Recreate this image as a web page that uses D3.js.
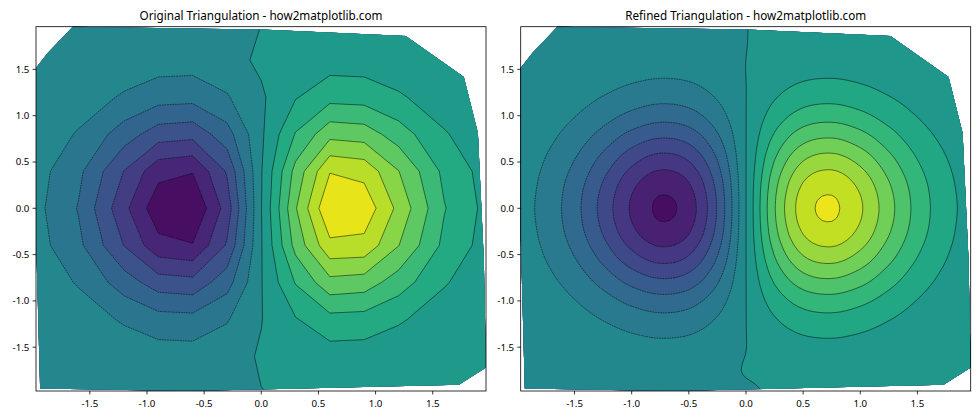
<!DOCTYPE html>
<html><head><meta charset="utf-8">
<script src="https://cdn.jsdelivr.net/npm/d3@7"></script>
<style>body{margin:0;background:#fff}</style>
</head><body><svg id="chart" width="980" height="420"></svg>
<script>
// ---------------- data ----------------
const titles = ["Original Triangulation - how2matplotlib.com", "Refined Triangulation - how2matplotlib.com"];
const tickValues = [-1.5, -1.0, -0.5, 0.0, 0.5, 1.0, 1.5];
const tickLabels = ["-1.5", "-1.0", "-0.5", "0.0", "0.5", "1.0", "1.5"];
const xLimits = [-1.971, 1.966];
const yLimits = [-1.973, 1.961];
// convex hull of the sample points (x, y)
const hull = [[-1.971, 1.515], [-1.868, 1.677], [-1.649, 1.961], [0.0, 1.93], [1.263, 1.861], [1.772, 1.418],
  [1.895, 0.812], [1.947, -0.563], [1.966, -1.72], [1.728, -1.905], [0.06, -1.955], [-0.667, -1.973],
  [-1.935, -1.945], [-1.971, -0.3]];
const levelsOriginal = [-0.42, -0.36, -0.30, -0.24, -0.18, -0.12, -0.06, 0, 0.06, 0.12, 0.18, 0.24, 0.30, 0.36, 0.42];
const levelsRefined = [-0.48, -0.42, -0.36, -0.30, -0.24, -0.18, -0.12, -0.06, 0, 0.06, 0.12, 0.18, 0.24, 0.30, 0.36, 0.42, 0.48];

// original (coarse) samples
const origXNodes = [-2, -1.6, -1.2, -0.9, -0.6, -0.3, 0, 0.3, 0.6, 0.9, 1.2, 1.6, 2];
const origYNodes = [2, 1.6, 1.2, 0.8, 0.4, 0, -0.4, -0.8, -1.2, -1.6, -2];
const origZ = [
  [-0.0007, -0.0023, -0.0052, -0.0073, -0.0077, -0.0050, -0.0002, 0.0043, 0.0077, 0.0073, 0.0052, 0.0023, 0.0007],
  [-0.0028, -0.0096, -0.0220, -0.0310, -0.0324, -0.0212, 0.0106, 0.0182, 0.0324, 0.0310, 0.0220, 0.0096, 0.0028],
  [-0.0087, -0.0293, -0.0673, -0.0949, -0.0992, -0.0650, -0.0086, 0.0557, 0.0992, 0.0949, 0.0673, 0.0293, 0.0087],
  [-0.0193, -0.0652, -0.1498, -0.2112, -0.2207, -0.1446, -0.0100, 0.1239, 0.2207, 0.2112, 0.1498, 0.0652, 0.0193],
  [-0.0312, -0.1054, -0.2420, -0.3413, -0.3567, -0.2336, -0.0040, 0.2002, 0.3567, 0.3413, 0.2420, 0.1054, 0.0312],
  [-0.0366, -0.1237, -0.2843, -0.4004, -0.4186, -0.2742, -0.0020, 0.2350, 0.4186, 0.4004, 0.2843, 0.1237, 0.0366],
  [-0.0312, -0.1054, -0.2420, -0.3413, -0.3567, -0.2336, -0.0040, 0.2002, 0.3450, 0.3413, 0.2420, 0.1054, 0.0312],
  [-0.0193, -0.0652, -0.1498, -0.2112, -0.2207, -0.1446, -0.0030, 0.1239, 0.2207, 0.2112, 0.1498, 0.0652, 0.0193],
  [-0.0087, -0.0293, -0.0673, -0.0949, -0.0992, -0.0650, -0.0020, 0.0557, 0.0992, 0.0949, 0.0673, 0.0293, 0.0087],
  [-0.0028, -0.0096, -0.0220, -0.0310, -0.0324, -0.0212, 0.0053, 0.0182, 0.0324, 0.0310, 0.0220, 0.0096, 0.0028],
  [-0.0007, -0.0023, -0.0052, -0.0073, -0.0077, -0.0050, -0.0011, 0.0043, 0.0077, 0.0073, 0.0052, 0.0023, 0.0007]
];

// refined field samples
const refXNodes = [-2, -1.75, -1.5, -1.25, -1, -0.75, -0.5, -0.25, 0, 0.25, 0.5, 0.75, 1, 1.25, 1.5, 1.75, 2];
const refYNodes = [2, 1.75, 1.5, 1.25, 1, 0.75, 0.5, 0.25, 0, -0.25, -0.5, -0.75, -1, -1.25, -1.5, -1.75, -2];
const refZ = [
  [-0.001, -0.002, -0.003, -0.005, -0.007, -0.008, -0.007, -0.004, -0.0003, 0.004, 0.007, 0.008, 0.007, 0.005, 0.003, 0.002, 0.001],
  [-0.002, -0.004, -0.007, -0.012, -0.017, -0.020, -0.018, -0.011, -0.0005, 0.011, 0.018, 0.020, 0.017, 0.012, 0.007, 0.004, 0.002],
  [-0.004, -0.009, -0.017, -0.028, -0.039, -0.045, -0.041, -0.025, 0.0003, 0.025, 0.041, 0.045, 0.039, 0.028, 0.017, 0.009, 0.004],
  [-0.008, -0.017, -0.033, -0.055, -0.077, -0.090, -0.082, -0.049, -0.0005, 0.049, 0.082, 0.090, 0.077, 0.055, 0.033, 0.017, 0.008],
  [-0.013, -0.030, -0.058, -0.096, -0.135, -0.157, -0.143, -0.086, -0.0005, 0.086, 0.143, 0.157, 0.135, 0.096, 0.058, 0.030, 0.013],
  [-0.021, -0.047, -0.090, -0.149, -0.210, -0.243, -0.222, -0.134, -0.0005, 0.134, 0.222, 0.243, 0.210, 0.149, 0.090, 0.047, 0.021],
  [-0.029, -0.064, -0.123, -0.204, -0.287, -0.333, -0.303, -0.183, -0.0005, 0.183, 0.303, 0.333, 0.287, 0.204, 0.123, 0.064, 0.029],
  [-0.034, -0.077, -0.149, -0.246, -0.346, -0.403, -0.366, -0.221, -0.0005, 0.221, 0.366, 0.403, 0.346, 0.246, 0.149, 0.077, 0.034],
  [-0.037, -0.082, -0.158, -0.262, -0.368, -0.429, -0.391, -0.235, -0.0005, 0.235, 0.391, 0.429, 0.368, 0.262, 0.158, 0.082, 0.037],
  [-0.034, -0.077, -0.149, -0.246, -0.346, -0.403, -0.366, -0.221, -0.0005, 0.221, 0.366, 0.403, 0.346, 0.246, 0.149, 0.077, 0.034],
  [-0.029, -0.064, -0.123, -0.204, -0.287, -0.333, -0.303, -0.183, -0.0005, 0.183, 0.303, 0.333, 0.287, 0.204, 0.123, 0.064, 0.029],
  [-0.021, -0.047, -0.090, -0.149, -0.210, -0.243, -0.222, -0.134, -0.0005, 0.134, 0.222, 0.243, 0.210, 0.149, 0.090, 0.047, 0.021],
  [-0.013, -0.030, -0.058, -0.096, -0.135, -0.157, -0.143, -0.086, -0.0005, 0.086, 0.143, 0.157, 0.135, 0.096, 0.058, 0.030, 0.013],
  [-0.008, -0.017, -0.033, -0.055, -0.077, -0.090, -0.082, -0.049, -0.0005, 0.049, 0.082, 0.090, 0.077, 0.055, 0.033, 0.017, 0.008],
  [-0.004, -0.009, -0.017, -0.028, -0.039, -0.045, -0.041, -0.025, -0.0005, 0.025, 0.041, 0.045, 0.039, 0.028, 0.017, 0.009, 0.004],
  [-0.002, -0.004, -0.007, -0.012, -0.017, -0.020, -0.018, -0.011, 0.0020, 0.011, 0.018, 0.020, 0.017, 0.012, 0.007, 0.004, 0.002],
  [-0.001, -0.002, -0.003, -0.005, -0.007, -0.008, -0.007, -0.004, -0.0055, 0.004, 0.007, 0.008, 0.007, 0.005, 0.003, 0.002, 0.001]
];

// ---------------- layout ----------------
const W = 450, T = 26.7, B = 391;
const panelLefts = [36, 520.7];
const FONT = "'Noto Sans', 'DejaVu Sans', sans-serif";
const svg = d3.select("#chart");
svg.append("rect").attr("width", 980).attr("height", 420).attr("fill", "#fff");
const defs = svg.append("defs");

// smooth refinement of a sampled grid (cubic, like a tri refiner)
function refineGrid(grid, f) {
  const rows = grid.length, cols = grid[0].length;
  const at = (r, c) => grid[Math.max(0, Math.min(rows - 1, r))][Math.max(0, Math.min(cols - 1, c))];
  const cr = (p0, p1, p2, p3, t) => 0.5 * (2 * p1 + (p2 - p0) * t + (2 * p0 - 5 * p1 + 4 * p2 - p3) * t * t + (3 * p1 - p0 - 3 * p2 + p3) * t * t * t);
  const nr = (rows - 1) * f + 1, nc = (cols - 1) * f + 1;
  const out = new Float64Array(nr * nc);
  for (let i = 0; i < nr; i++) {
    const v = i / f, r = Math.min(Math.floor(v), rows - 2), ty = v - r;
    for (let j = 0; j < nc; j++) {
      const u = j / f, c = Math.min(Math.floor(u), cols - 2), tx = u - c;
      const col = k => cr(at(r - 1, c + k), at(r, c + k), at(r + 1, c + k), at(r + 2, c + k), ty);
      out[i * nc + j] = cr(col(-1), col(0), col(1), col(2), tx);
    }
  }
  return { values: out, nx: nc, ny: nr };
}

function drawPanel(p) {
  const left = panelLefts[p.index];
  const x = d3.scaleLinear().domain(xLimits).range([left, left + W]);
  const y = d3.scaleLinear().domain(yLimits).range([B, T]);
  const proj = d3.geoTransform({
    point(cx, cy) { this.stream.point(x(p.xIndex(cx - 0.5)), y(p.yIndex(cy - 0.5))); }
  });
  const path = d3.geoPath(proj);
  const hullLine = d3.line().x(d => x(d[0])).y(d => y(d[1]));
  const clipId = "clip" + p.index;
  defs.append("clipPath").attr("id", clipId).append("path").attr("d", hullLine(hull) + "Z");

  const g = svg.append("g");
  const body = g.append("g").attr("clip-path", `url(#${clipId})`);
  const levels = p.levels;
  const lo = levels[0], hi = levels[levels.length - 1];
  const bandColor = i => d3.interpolateViridis(((levels[i] + levels[i + 1]) / 2 - lo) / (hi - lo));
  body.append("path").attr("d", hullLine(hull) + "Z").attr("fill", bandColor(0));
  const gen = d3.contours().size([p.nx, p.ny]).smooth(true);
  for (let i = 1; i < levels.length - 1; i++) {
    const c = gen.contour(p.values, levels[i]);
    if (!c.coordinates.length) continue;
    body.append("path").attr("d", path(c)).attr("fill", bandColor(i)).attr("fill-rule", "evenodd");
  }
  for (let i = 0; i < levels.length; i++) {
    const c = gen.contour(p.values, levels[i]);
    if (!c.coordinates.length) continue;
    body.append("path").attr("d", path(c)).attr("fill", "none")
      .attr("stroke", "#000").attr("stroke-width", 0.55).attr("stroke-opacity", 0.9)
      .attr("stroke-dasharray", levels[i] < 0 ? "1.8,0.8" : null);
  }

  // axes
  g.append("rect").attr("x", left).attr("y", T).attr("width", W).attr("height", B - T)
    .attr("fill", "none").attr("stroke", "#000").attr("stroke-width", 0.8);
  tickValues.forEach((v, i) => {
    g.append("line").attr("x1", x(v)).attr("x2", x(v)).attr("y1", B).attr("y2", B + 3.4)
      .attr("stroke", "#000").attr("stroke-width", 0.8);
    g.append("text").attr("x", x(v)).attr("y", B + 16).attr("text-anchor", "middle")
      .attr("font-family", FONT).attr("font-size", 9.7).attr("fill", "#000").text(tickLabels[i]);
    g.append("line").attr("x1", left - 3.4).attr("x2", left).attr("y1", y(v)).attr("y2", y(v))
      .attr("stroke", "#000").attr("stroke-width", 0.8);
    g.append("text").attr("x", left - 6.6).attr("y", y(v) + 3.5).attr("text-anchor", "end")
      .attr("font-family", FONT).attr("font-size", 9.7).attr("fill", "#000").text(tickLabels[i]);
  });
  g.append("text").attr("x", left + W / 2).attr("y", 19.5).attr("text-anchor", "middle")
    .attr("font-family", FONT).attr("font-size", 11.7).attr("fill", "#000").text(titles[p.index]);
}

// left: original samples drawn linearly
drawPanel({
  index: 0, levels: levelsOriginal,
  values: origZ.flat(), nx: origXNodes.length, ny: origYNodes.length,
  xIndex: d3.scaleLinear().domain(d3.range(origXNodes.length)).range(origXNodes),
  yIndex: d3.scaleLinear().domain(d3.range(origYNodes.length)).range(origYNodes)
});

// right: refined field
const F = 6;
const fine = refineGrid(refZ, F);
drawPanel({
  index: 1, levels: levelsRefined,
  values: fine.values, nx: fine.nx, ny: fine.ny,
  xIndex: d3.scaleLinear().domain([0, fine.nx - 1]).range([refXNodes[0], refXNodes[refXNodes.length - 1]]),
  yIndex: d3.scaleLinear().domain([0, fine.ny - 1]).range([refYNodes[0], refYNodes[refYNodes.length - 1]])
});
</script>
</body></html>
